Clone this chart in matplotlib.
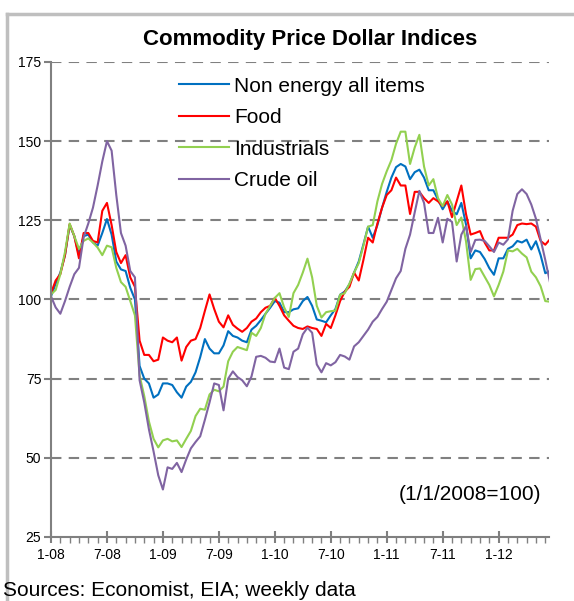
import numpy as np
import matplotlib
matplotlib.use("Agg")
import matplotlib.pyplot as plt
from matplotlib.lines import Line2D
from matplotlib.ticker import MultipleLocator

plt.rcParams["font.family"] = ["Liberation Sans", "DejaVu Sans"]

# months since Jan 2008, read every half month off the chart
months = np.arange(0, 54, 0.5)

non_energy = [
    101, 105, 108.5, 114, 123.5, 120, 114, 120, 120.5, 118,
    117, 121, 125.4, 120.5, 112, 109.5, 109, 103.7, 100, 79,
    75, 73.5, 69, 70, 73.5, 73.5, 73, 70.7, 69, 72.5,
    74, 77, 81.8, 87.5, 84.5, 83, 83, 85.5, 90, 88.5,
    88, 87, 86.5, 90.5, 91.7, 93.5, 95.5, 97.4, 99.5, 99,
    96, 96, 96.9, 97.2, 99.5, 100.8, 98, 93.7, 93.3, 92.8,
    95, 97, 101.5, 102.5, 104.8, 108.5, 112, 117.4, 123, 119.5,
    123.5, 129, 134, 138.5, 141.8, 142.8, 142, 138, 140.2, 141,
    138.5, 134.5, 134.5, 131.5, 128.5, 131, 128, 126.9, 130.5, 123.7,
    113, 115.5, 115, 112.8, 109.9, 107.8, 113, 113, 116, 116.8,
    118.5, 118, 118.9, 115.8, 118.4, 114, 108.3, 109,
]

food = [
    102, 106, 108, 114, 123.8, 120, 113, 121, 121, 118.5,
    118, 128, 130.5, 123.5, 115, 111.5, 114, 107, 104, 87,
    82.5, 82.5, 80.5, 81, 88, 87, 86.5, 88, 80.7, 85,
    87, 87.5, 91, 96.4, 101.6, 97, 93, 91.2, 95, 92,
    90.8, 89.8, 91, 93, 94, 96, 97.4, 98, 100.5, 98,
    95, 93.3, 91.7, 91, 90.7, 91.5, 91, 90.7, 88.5, 92.3,
    91, 95, 99.5, 102.5, 104, 108.5, 106, 112.5, 119.5, 118,
    124, 129, 133, 134.5, 138.5, 136, 136, 127, 134, 134,
    132, 130.5, 132, 131, 129.5, 131, 126, 131, 136, 127,
    120.5, 121, 121.6, 118, 115.5, 115.5, 119.5, 119.5, 119.5, 120.5,
    123.5, 124, 123.8, 124, 123, 118.5, 117.3, 119,
]

industrials = [
    101.6, 103, 108, 115, 124, 120, 116, 118.5, 119.3, 118,
    116.4, 114, 117, 116.5, 110, 105.5, 104, 99.5, 95, 76,
    69.5, 61.5, 56, 53.3, 55.5, 56, 55.2, 55.5, 53.4, 56,
    58.5, 63.2, 65.5, 65.2, 70, 71.5, 71, 72.5, 80.5, 83.5,
    85, 84.5, 84, 89.5, 88.5, 91, 95.5, 98, 100.5, 102,
    97.5, 94.5, 102, 104.6, 108.5, 112.9, 107, 98, 94.3, 96,
    96.3, 96.5, 101.5, 102, 105, 108.5, 111.5, 117, 123, 123.5,
    131, 136.5, 140.5, 144, 149.2, 153, 153, 142.8, 148, 152,
    142, 136, 138, 132, 129.5, 133, 130, 123.5, 125.9, 118.4,
    106.2, 109.6, 109.8, 107.2, 104.6, 101, 104.6, 108.8, 115.5, 115.2,
    116, 114.5, 113.3, 108.8, 107, 104.2, 99.5, 99.3,
]

crude_oil = [
    101, 97.5, 95.5, 99.5, 104, 108, 110, 119.7, 124, 129,
    136, 143.6, 150, 147, 133, 121, 117, 109, 107, 74.5,
    67.5, 59, 52, 44.5, 40, 47, 46.5, 48.4, 45.5, 49.5,
    53, 55, 56.8, 62, 67.5, 73.5, 73, 65, 75, 77.3,
    75.5, 74.5, 72.6, 75.7, 81.9, 82.2, 81.6, 80.4, 80.2, 84.5,
    78.5, 78, 83.5, 84.5, 89, 91.1, 89.5, 79.5, 77, 79.9,
    79.2, 80.2, 82.5, 82, 81, 85.2, 86.5, 88.5, 90.5, 93,
    94.5, 97, 99.3, 103, 106.7, 109, 116, 120.5, 127.5, 134.3,
    130.5, 121, 121, 125.8, 118, 125.5, 124.5, 112, 120.5, 123.2,
    115, 118.8, 118.9, 118.5, 116.8, 115, 118, 117.3, 119, 128,
    133.3, 134.8, 133.3, 130, 125.5, 119, 112.5, 105.5,
]

tick_labels = ["1-08", "7-08", "1-09", "7-09", "1-10", "7-10", "1-11", "7-11", "1-12"]

series = [
    ("Non energy all items", non_energy, "#0070C0"),
    ("Food", food, "#FF0000"),
    ("Industrials", industrials, "#92D050"),
    ("Crude oil", crude_oil, "#8064A2"),
]

fig = plt.figure(figsize=(5.74, 6.01), dpi=100)
ax = fig.add_axes([51 / 574, 1 - 537 / 601, 498 / 574, 475 / 601])

for name, vals, col in series:
    ax.plot(months, vals, color=col, lw=1.5, label=name)

ax.set_xlim(0, 53.4)
ax.set_ylim(25, 175)
ax.set_yticks([25, 50, 75, 100, 125, 150, 175])
ax.set_xticks(np.arange(0, 6 * len(tick_labels), 6))
ax.set_xticklabels(tick_labels)
ax.xaxis.set_minor_locator(MultipleLocator(1))

for y in [50, 75, 100, 125, 150, 175]:
    ax.axhline(y, color="#808080", lw=1.5, ls=(0, (5, 3.5)), zorder=0)

for s in ["top", "right"]:
    ax.spines[s].set_visible(False)
for s in ["left", "bottom"]:
    ax.spines[s].set_color("#808080")
    ax.spines[s].set_linewidth(1.5)

ax.tick_params(axis="y", which="major", direction="out", length=5, width=1.5,
               color="#808080", labelsize=10, pad=2)
ax.tick_params(axis="x", which="major", direction="inout", length=8, width=1.5,
               color="#808080", labelsize=10, pad=4)
ax.tick_params(axis="x", which="minor", direction="out", length=4, width=1,
               color="#808080")

ax.legend(loc="upper left", bbox_to_anchor=(0.228, 1.0), frameon=False,
          fontsize=15, handlelength=2.4, handletextpad=0.25, labelspacing=0.6,
          borderaxespad=0.3)

ax.text(0.985, 0.09, "(1/1/2008=100)", transform=ax.transAxes, ha="right",
        va="center", fontsize=15)

fig.text(0.54, 1 - 40 / 601, "Commodity Price Dollar Indices", ha="center",
         va="center", fontsize=16, fontweight="bold")
fig.text(0.005, 1 - 590 / 601, "Sources: Economist, EIA; weekly data",
         ha="left", va="center", fontsize=15)

# grey chart frame, cut off at right and bottom
fig.add_artist(Line2D([7 / 574, 7 / 574], [0, 1 - 14 / 601], color="#BFBFBF", lw=2.5))
fig.add_artist(Line2D([7 / 574, 1], [1 - 14 / 601, 1 - 14 / 601], color="#BFBFBF", lw=2.5))

fig.savefig("out.png", dpi=100)
